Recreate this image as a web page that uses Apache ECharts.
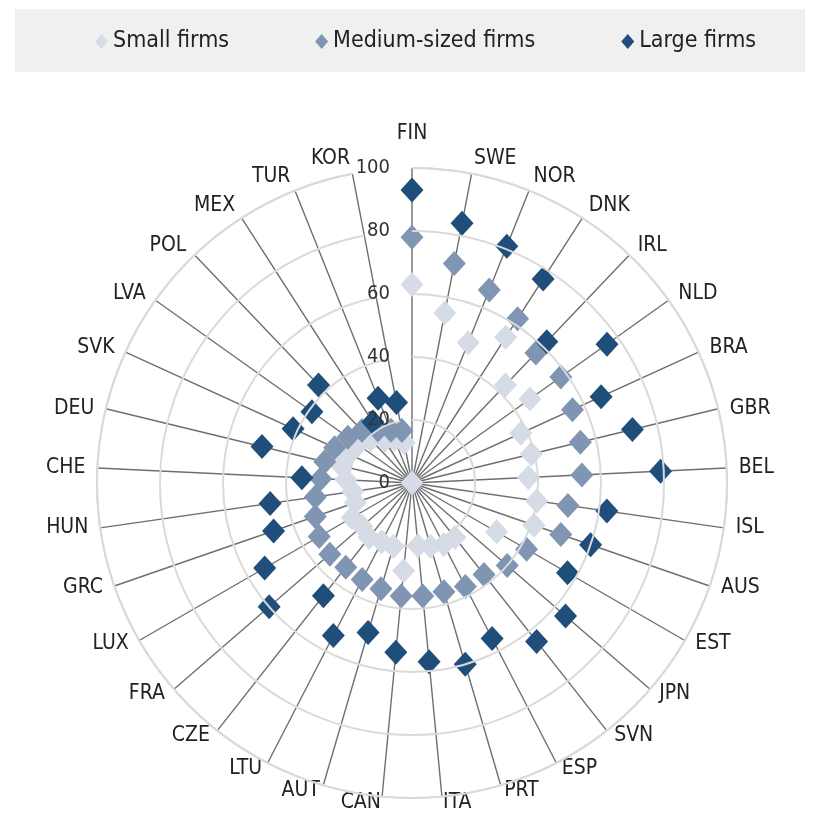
<!DOCTYPE html>
<html>
<head>
<meta charset="utf-8">
<script src="https://cdn.jsdelivr.net/npm/echarts@6/dist/echarts.min.js"></script>
<style>
  html, body { margin: 0; padding: 0; background: #fff; }
  #chart { width: 822px; height: 820px; }
</style>
</head>
<body>
<div id="chart"></div>
<script>
const countries = ['FIN', 'SWE', 'NOR', 'DNK', 'IRL', 'NLD', 'BRA', 'GBR', 'BEL', 'ISL', 'AUS',
  'EST', 'JPN', 'SVN', 'ESP', 'PRT', 'ITA', 'CAN', 'AUT', 'LTU', 'CZE', 'FRA', 'LUX', 'GRC',
  'HUN', 'CHE', 'DEU', 'SVK', 'LVA', 'POL', 'MEX', 'TUR', 'KOR'];

const smallFirms = [63, 55, 48, 55, 43, 46, 38, 39, 37, 40, 41,
  31, 0, 22, 22, 21, 20, 28, 21, 21, 22, 21, 22, 19,
  19, 21, 23, 22, 21, 19, 16, 15, 13];
const mediumFirms = [78, 71, 66, 62, 57, 58, 56, 55, 54, 50, 50,
  42, 40, 37, 37, 36, 36, 36, 35, 34.5, 34, 34.5, 34, 32.5,
  31, 29, 28.5, 27, 25, 23, 20, 18, 17];
const largeFirms = [93, 84, 81, 77, 62, 76, 66, 72, 79, 62.5, 60,
  57, 64.5, 64, 55.5, 60, 57, 54, 49.5, 54.5, 45.5, 60, 54, 46.5,
  45.5, 35, 49, 41.5, 39, 43, 23, 29, 26];

const radiusTicks = [0, 20, 40, 60, 80, 100];
const seriesNames = ['Small firms', 'Medium-sized firms', 'Large firms'];
const seriesColors = ['#d5dce7', '#7f95b2', '#1f4e7a'];

const FONT = "'Liberation Sans Narrow', 'Arial Narrow', 'DejaVu Sans Condensed', 'Liberation Sans', sans-serif";
const LABEL_SIZE = 21;
const LABEL_LH = 24;
const RADIUS = 315;

// excel puts the spoke names beside the spoke end rather than radially out,
// so shift each echarts label with padding to get the same look
const ctx = document.createElement('canvas').getContext('2d');
ctx.font = LABEL_SIZE + 'px ' + FONT;

const angleItems = countries.map((name, i) => {
  const th = 2 * Math.PI * i / countries.length;
  const s = Math.sin(th);
  const c = Math.cos(th);
  const w = ctx.measureText(name).width;
  const h = LABEL_LH;
  const px = RADIUS * s;
  const py = -RADIUS * c;

  let left;
  if (Math.abs(s) < 0.05) left = px - w / 2;
  else if (s > 0) left = px + 12 * s;
  else left = px + 12 * s - w;

  let yc;
  if (Math.abs(s) < 0.05 && c > 0) yc = py - h / 2 - 22;
  else yc = py + (c > 0 ? -16 * Math.pow(c, 1.5) : 6 * -c);
  const top = yc - h / 2;

  const hA = Math.abs(s) < 0.3 ? 'center' : (s > 0 ? 'left' : 'right');
  const vA = Math.abs(c) < 0.3 ? 'middle' : (c < 0 ? 'top' : 'bottom');
  let pl = 0, pr = 0, pt = 0, pb = 0;
  if (hA === 'left') pl = left - px;
  else if (hA === 'right') pr = px - w - left;
  else {
    const d = left - px + w / 2;
    if (d >= 0) pl = 2 * d; else pr = -2 * d;
  }
  if (vA === 'top') pt = top - py;
  else if (vA === 'bottom') pb = py - h - top;
  else {
    const d = top - py + h / 2;
    if (d >= 0) pt = 2 * d; else pb = -2 * d;
  }
  return { value: name, textStyle: { padding: [pt, pr, pb, pl] } };
});

const chart = echarts.init(document.getElementById('chart'));

const makeSeries = (name, vals, color) => ({
  name,
  type: 'scatter',
  coordinateSystem: 'polar',
  symbol: 'diamond',
  symbolSize: [23, 25],
  itemStyle: { color, opacity: 1 },
  emphasis: { disabled: true },
  data: vals.map((v, i) => [v, i]),
});

chart.setOption({
  animation: false,
  textStyle: { fontFamily: FONT },
  graphic: [
    {
      type: 'rect',
      left: 15,
      top: 9,
      shape: { width: 790, height: 63 },
      style: { fill: '#f0f0f0' },
      z: -10,
    },
  ],
  legend: {
    top: 25,
    left: 90,
    icon: 'diamond',
    itemWidth: 13,
    itemHeight: 15,
    itemGap: 86,
    textStyle: { fontSize: 23, color: '#222', fontFamily: FONT },
    data: seriesNames,
  },
  polar: {
    center: [412, 483],
    radius: RADIUS,
  },
  angleAxis: {
    type: 'category',
    data: angleItems,
    boundaryGap: false,
    startAngle: 90,
    clockwise: true,
    axisLine: { show: true, lineStyle: { color: '#dadada', width: 2 } },
    axisTick: { show: false },
    axisLabel: {
      interval: 0, fontSize: LABEL_SIZE, lineHeight: LABEL_LH, color: '#222', margin: 0, fontFamily: FONT,
    },
    splitLine: { show: true, interval: 0, lineStyle: { color: '#6f6f6f', width: 1.4 } },
  },
  radiusAxis: {
    type: 'value',
    min: radiusTicks[0],
    max: radiusTicks[radiusTicks.length - 1],
    interval: radiusTicks[1] - radiusTicks[0],
    axisLine: { show: false },
    axisTick: { show: false },
    axisLabel: {
      fontSize: 20, color: '#333', margin: 22, align: 'right', fontFamily: FONT,
    },
    splitLine: { show: true, lineStyle: { color: '#dadada', width: 2 } },
    z: 5,
  },
  series: [
    makeSeries(seriesNames[0], smallFirms, seriesColors[0]),
    makeSeries(seriesNames[1], mediumFirms, seriesColors[1]),
    makeSeries(seriesNames[2], largeFirms, seriesColors[2]),
  ],
});
</script>
</body>
</html>
